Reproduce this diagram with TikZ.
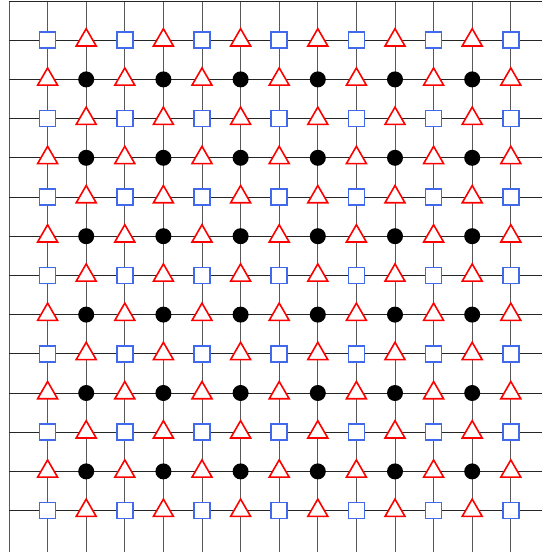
\documentclass[tikz,border=0pt]{standalone}
\usetikzlibrary{shapes.geometric}

\definecolor{sqblue}{RGB}{65,105,235}

\tikzset{
  sqmark/.style={draw=sqblue, line width=1.7pt, fill=white, minimum size=16pt, inner sep=0pt},
  trimark/.style={regular polygon, regular polygon sides=3, draw=red, line width=1.6pt, fill=white, minimum size=23pt, inner sep=0pt},
  dotmark/.style={circle, fill=black, minimum size=16pt, inner sep=0pt}
}

\begin{document}
\begin{tikzpicture}[x=1pt, y=-1pt]
            \useasboundingbox (0,0) rectangle (542,552);
            % lattice lines
            \foreach \i in {0,...,13}
                \draw[black!65, line width=1pt] (9+38.6*\i,1) -- (9+38.6*\i,552);
            \foreach \j in {0,...,13}
                \draw[black!85, line width=0.8pt] (9,1+39.2*\j) -- (542,1+39.2*\j);
            % markers
            \foreach \i in {1,...,13}
                \foreach \j in {1,...,13}{
                    \pgfmathtruncatemacro{\ci}{mod(\i,2)}
                    \pgfmathtruncatemacro{\cj}{mod(\j,2)}
                    \ifnum\ci=1
                        \ifnum\cj=1
                            \node[sqmark] (m-\i-\j) at (9+38.6*\i,1+39.2*\j) {};
                        \else
                            \node[trimark] (m-\i-\j) at (9+38.6*\i,1+39.2*\j) {};
                        \fi
                    \else
                        \ifnum\cj=1
                            \node[trimark] (m-\i-\j) at (9+38.6*\i,1+39.2*\j) {};
                        \else
                            \node[dotmark] (m-\i-\j) at (9+38.6*\i,1+39.2*\j) {};
                        \fi
                    \fi
                }
        \end{tikzpicture}
\end{document}
